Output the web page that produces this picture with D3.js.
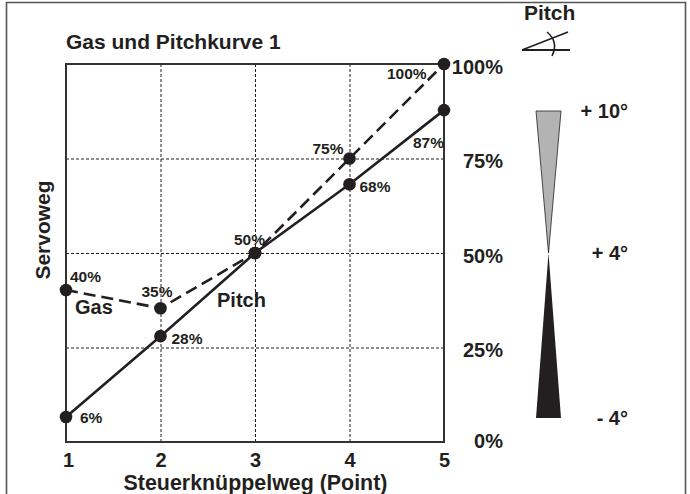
<!DOCTYPE html>
<html>
<head>
<meta charset="utf-8">
<script src="https://cdn.jsdelivr.net/npm/d3@7"></script>
<style>
  body { margin: 0; background: #fff; }
  text { font-family: "Liberation Sans", Arial, sans-serif; font-weight: bold; fill: #231f20; }
</style>
</head>
<body>
<div id="chart"></div>
<script>
// values
const points = [1, 2, 3, 4, 5];
const percentTicks = [0, 25, 50, 75, 100];
const gasValues = [40.2, 35.4, 50, 75, 100];
const pitchValues = [6.6, 28, 50, 68.2, 87.8];
const gasLabels = ["40%", "35%", "50%", "75%", "100%"];
const pitchLabels = ["6%", "28%", "", "68%", "87%"];
const pitchAngles = [10, 4, -4];
const angleLabels = ["+ 10°", "+ 4°", "- 4°"];

// label offsets from their point, layout only
const gasOffsets = [[4, -8], [-19, -11], [-21, -8], [-37, -5], [-57, 15]];
const pitchOffsets = [[14, 6], [11, 8], [0, 0], [10, 8], [-31, 38]];

const width = 690, height = 494;
const margin = {top: 64, right: 246, bottom: 52, left: 66},
    w = width - margin.left - margin.right,
    h = height - margin.top - margin.bottom;
const ink = "#231f20";

let svg = d3.select("#chart").append("svg")
    .attr("width", width)
    .attr("height", height)
    .style("display", "block");

// outer frame, runs off the bottom of the picture
svg.append("path")
    .attr("d", "M6.5," + height + "V2.5H685.5V" + height)
    .attr("fill", "none")
    .attr("stroke", "#555")
    .attr("stroke-width", 1.6);

let g = svg.append("g")
    .attr("transform", "translate(" + margin.left + "," + margin.top + ")");

let x = d3.scaleLinear().domain([1, 5]).range([0, w]);
let y = d3.scaleLinear().domain([0, 100]).range([h, 0]);

let xAxis = d3.axisBottom(x).tickValues(points).tickFormat(d3.format("d")).tickSize(-h).tickPadding(0);
let yAxis = d3.axisRight(y).tickValues(percentTicks).tickFormat(d => d + "%").tickSize(-w).tickPadding(0);

let xg = g.append("g").attr("transform", "translate(0," + h + ")").call(xAxis);
let yg = g.append("g").attr("transform", "translate(" + w + ",0)").call(yAxis);

xg.select(".domain").remove();
yg.select(".domain").remove();

[xg, yg].forEach(function (a) {
    a.selectAll("line")
        .attr("stroke", ink)
        .attr("stroke-width", 1)
        .attr("stroke-dasharray", "3,2");
});

xg.selectAll("text")
    .attr("y", 25)
    .attr("dy", 0)
    .attr("dx", d => d === 1 ? 2 : 0)
    .style("font-size", "20px")
    .attr("fill", ink);

yg.selectAll("text")
    .attr("x", 59)
    .attr("dy", 0)
    .attr("y", d => d === 0 ? 5 : 9)
    .style("text-anchor", "end")
    .style("font-size", "20px");

// plot box
g.append("rect")
    .attr("width", w)
    .attr("height", h)
    .attr("fill", "none")
    .attr("stroke", "#333")
    .attr("stroke-width", 2);

let line = d3.line().x((d, i) => x(points[i])).y(d => y(d));

g.append("path")
    .attr("d", line(gasValues))
    .attr("fill", "none")
    .attr("stroke", ink)
    .attr("stroke-width", 2.6)
    .attr("stroke-dasharray", "12,6");

g.append("path")
    .attr("d", line(pitchValues))
    .attr("fill", "none")
    .attr("stroke", ink)
    .attr("stroke-width", 2.6);

[gasValues, pitchValues].forEach(function (vals) {
    g.selectAll(null)
        .data(vals)
        .enter().append("circle")
        .attr("cx", (d, i) => x(points[i]))
        .attr("cy", d => y(d))
        .attr("r", 6.3)
        .attr("fill", ink);
});

function valueLabels(vals, labels, offsets) {
    g.selectAll(null)
        .data(vals)
        .enter().append("text")
        .attr("x", (d, i) => x(points[i]) + offsets[i][0])
        .attr("y", (d, i) => y(d) + offsets[i][1])
        .style("font-size", "15.5px")
        .text((d, i) => labels[i]);
}
valueLabels(gasValues, gasLabels, gasOffsets);
valueLabels(pitchValues, pitchLabels, pitchOffsets);

// titles and curve names
function label(px, py, size, str, anchor) {
    return svg.append("text")
        .attr("x", px)
        .attr("y", py)
        .style("font-size", size + "px")
        .style("text-anchor", anchor || "start")
        .text(str);
}
label(66, 49, 21, "Gas und Pitchkurve 1");
label(75, 314, 20, "Gas");
label(217, 307, 20, "Pitch");
label(255.5, 490, 21.4, "Steuerknüppelweg (Point)", "middle");
label(524, 20, 21, "Pitch");
svg.append("text")
    .attr("transform", "translate(50,230) rotate(-90)")
    .style("font-size", "21px")
    .style("text-anchor", "middle")
    .text("Servoweg");

// pitch angle symbol
let icon = svg.append("g").attr("fill", "none").attr("stroke", ink);
icon.append("path").attr("d", "M522,50H570").attr("stroke-width", 2);
icon.append("path").attr("d", "M522,50L568,32").attr("stroke-width", 1.6);
icon.append("path").attr("d", "M547,32Q559,42 552,56").attr("stroke-width", 1.6);

// pitch wedge, top grey part and lower black part
let angleY = d3.scaleLinear().domain([-4, 4, 10]).range([418, 253, 111]);
let wedgeHalf = d3.scaleLinear().domain([-4, 4, 10]).range([12.5, 0, 12.5]);
let wedgeX = 548.5;

let wedge = d3.line().x(d => d[0]).y(d => angleY(d[1]));

function wedgePath(from, to) {
    return wedge([
        [wedgeX - wedgeHalf(from), from],
        [wedgeX + wedgeHalf(from), from],
        [wedgeX, to]
    ]) + "Z";
}

svg.append("path")
    .attr("d", wedgePath(pitchAngles[0], pitchAngles[1]))
    .attr("fill", "#b3b3b3")
    .attr("stroke", ink)
    .attr("stroke-width", 0.8);

svg.append("path")
    .attr("d", wedgePath(pitchAngles[2], pitchAngles[1]))
    .attr("fill", ink);

svg.selectAll(null)
    .data(pitchAngles)
    .enter().append("text")
    .attr("x", 628)
    .attr("y", d => angleY(d) + 6.5)
    .style("font-size", "20px")
    .style("text-anchor", "end")
    .text((d, i) => angleLabels[i]);
</script>
</body>
</html>
